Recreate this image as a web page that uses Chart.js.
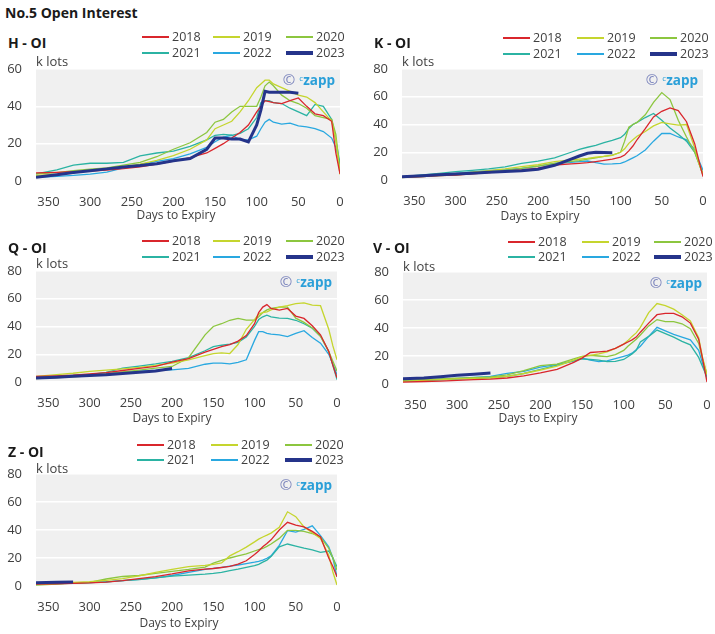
<!DOCTYPE html>
<html>
<head>
<meta charset="utf-8">
<script src="https://cdn.jsdelivr.net/npm/chart.js@4/dist/chart.umd.min.js"></script>
<style>
body { margin: 0; background: #fff; font-family: "Open Sans", sans-serif; color: #404040; }
#page { position: relative; width: 715px; height: 634px; overflow: hidden; }
.t { position: absolute; white-space: nowrap; line-height: 1; }
canvas { position: absolute; }
</style>
</head>
<body>
<div id="page"></div>
<script>
// days to expiry (x values shared by every series)
const days = [365,340,320,300,280,260,240,220,200,180,160,150,140,130,120,110,100,95,90,85,80,70,60,50,40,30,20,10,5,0];
const years = ['2018','2019','2020','2021','2022','2023'];
const yearColors = ['#d9262c','#c5d52e','#8cc63f','#2bb3a3','#29a8e0','#25348a'];
const xTicks = [350,300,250,200,150,100,50,0];

// H - OI (k lots)
const h2018 = [4.3,4.6,5,5.3,5.8,6.6,7.6,9,10.6,12.5,15,17.5,20,23,26,30,37,40,43,42.5,42,41.5,43,44.5,40,36,35,32,15,3.8];
const h2019 = [3,3.6,4.5,5.6,6.5,7.5,9,11,13.6,17,22,28,30,32,37,43,50,52,54,54,52,50,48,46,45,42,37,32,22,3.5];
const h2020 = [3.8,4.5,5.5,6.3,7,8.5,10,13,17,20.5,26,31.5,33,37,40,40,40,45,51,53,51,46,43,41.5,39,35,34,33,25,5];
const h2021 = [3.8,6,8.5,9.5,9.5,10,13.5,15,16,18.5,22,24.5,25,24.5,25.5,28,34,42,43,43,42,41.5,39,37,35,41,40,33,22,9];
const h2022 = [2,2.5,3,3.7,4.8,7,8.8,10.5,12,14.5,18,21,23.5,24.5,22,22,24,28,31.5,33,31.5,30.5,31,29.5,29,28,26.5,23,18,9];
const h2023 = [2,3.3,4.5,5.5,6.5,7.5,8.3,9.3,10.8,12,17,23,23,22.5,22.5,21,30,38,48,47.5,47.5,47.5,47.5,47,null,null,null,null,null,null];

// K - OI
const k2018 = [1.9,2.5,3.2,3.6,4.4,5.3,6.3,7.2,8.5,10.8,11.6,12,12.5,13.3,14.2,15,16.5,18,21,24.5,29,37,45.5,49.5,52,50,42,26,14,2.4];
const k2019 = [1.7,2.8,3.6,4.3,5.6,6.7,8,9.6,11,13.2,14.5,15,15.6,16.4,17,17.8,20,22.5,26.4,29,31.5,35,39,41.5,40.5,39.6,40,23,12,3.6];
const k2020 = [1.9,2.5,3.2,3.6,4.8,5.8,7,8.4,10,12,13.4,14,15,16,17,18,20,28,38,40,41.5,47,56,63,58,43,31,20,12,4.8];
const k2021 = [2.4,3.6,4.8,6,7,8,9.5,12,13.6,16,20,22,23.6,25,27,28.5,30.5,33,37,40,41.5,45,48,43,37.5,33,28,20,12,3.6];
const k2022 = [2.4,3.4,4.2,4.8,5.8,6.7,7.5,8.4,10,12,12.8,13.2,13.7,12.5,11.5,11.6,12,13,14.5,16,17.5,21.6,28,33.5,33.5,31,29,22,14,7];
const k2023 = [2.4,3.1,3.7,4.3,4.9,5.5,6.1,6.7,7.8,10.6,15,17.3,19.3,20,19.8,19.7,null,null,null,null,null,null,null,null,null,null,null,null,null,null];

// Q - OI
const q2018 = [4,4.4,4.9,5.8,6.8,8.3,9.8,11.3,14.3,16.8,21.5,23.5,25.5,27,29.5,33.5,42,50,54,55.8,53,51.8,53,47.5,45.8,40.5,34,22,12,3];
const q2019 = [4,5.3,6.3,7.6,8.5,9.5,10.5,12,13.6,16,19,20.5,21,20.5,27,38,45,49,50,50.6,52,54,55,56.5,57,55.4,55,38,26,16];
const q2020 = [2.4,3.2,3.8,4.4,5.8,7.2,8.6,10,11.2,17.5,34,40,42,44.5,45.8,44.6,44.6,47,50,52,53,54,54,46,43,39,33,22,15,8];
const q2021 = [3.3,4,4.7,5.3,7,10,11.5,13,14.8,17.5,22.5,25.5,26.5,27.3,28.5,32.5,40,45,47,48.2,47,46,45.8,44.5,42,38.7,33,22,12,1.7];
const q2022 = [2.9,3.8,4.5,5.3,6,7,7.8,8.4,8.8,9.8,12.8,13.6,13.6,13,14.2,16,30,36.3,36.3,35,34.5,34,32.7,35,37,32,28,20,13,5.3];
const q2023 = [2.9,3.5,4.1,4.7,5.3,6.2,7,8,9.8,null,null,null,null,null,null,null,null,null,null,null,null,null,null,null,null,null,null,null,null,null];

// V - OI
const v2018 = [1.4,1.8,2.1,2.6,3.1,3.5,4.3,5.8,8,10.5,15.5,18.5,22.5,23,23.5,25.5,28.5,30,31.5,33.5,37,43.5,49.5,50.5,50.5,48,43.5,32,17,1.4];
const v2019 = [1.9,2.6,3.1,3.6,4,4.3,5.5,7.5,10,12.8,17,19.5,20.5,21.5,23,25.5,28.5,31,34,36.5,40.5,51,57.5,56,53.5,49.5,45,33,18,7];
const v2020 = [2.6,3.2,3.6,4.1,4.5,5,6.5,9.5,13.2,14.2,18,19.8,20.5,20,19.5,21,24,27,29.5,32,35,41.5,46,44.6,44.6,43,39.5,29,17,7];
const v2021 = [1.9,2.5,3,3.5,4,4.5,5.5,7.5,10.5,13.5,16.5,18,17.5,17,16,16.2,17.5,19.5,21.5,24,30,34,38.5,36,33.5,30.5,28,19,12,5];
const v2022 = [2,2.8,3.5,4,4.7,5.5,7.6,9,12,14,16.5,18.5,17,16,16.5,18.2,19.8,20.6,22,24.5,27,34,40.5,38,35.5,33.5,31.5,24,14,3.8];
const v2023 = [3.8,4.3,5.2,6.3,7,7.9,null,null,null,null,null,null,null,null,null,null,null,null,null,null,null,null,null,null,null,null,null,null,null,null];

// Z - OI
const z2018 = [1.4,1.6,1.9,2.2,2.8,3.8,5.2,6.7,8.6,10.8,12,12.5,13.2,14,15.6,18,22.5,25,28,30.3,33,40,45.5,43.5,42.2,39,35,20,14,6.6];
const z2019 = [1.4,1.9,2.5,3.1,4,5.2,7.2,9.8,11.8,13.8,14.8,15.5,16.5,21.5,24.5,27.8,31.5,33.5,35,36.3,37.8,42,53,49.5,42.2,38,34,22,10,0.7];
const z2020 = [0.7,1.3,2,2.6,5,6.8,7.5,9,10.5,11.8,13.5,16.3,18.3,20,21.5,23,25,26,26.8,28.3,30,34,39.8,39.8,39,37.5,35,27,20,11.4];
const z2021 = [1.4,1.8,2.1,2.4,3,3.8,4.5,5.8,7,7.8,8.5,9,9.7,11,12,13.3,14.5,15.5,17,18.5,21,28,30,28.5,27,25.8,24,25,20,13.7];
const z2022 = [1.4,1.8,2.1,2.4,3,3.8,4.8,5.8,7.5,9.8,11.8,12.6,13.3,14.2,15,16,17,17.6,18.5,19.8,21.5,29,39.5,38.5,40.5,43,36,28,20,6.6];
const z2023 = [2.4,2.6,2.8,null,null,null,null,null,null,null,null,null,null,null,null,null,null,null,null,null,null,null,null,null,null,null,null,null,null,null];

// page layout (plot = left, top, right, bottom of the grey area)
const panels = [
  {name: 'H - OI', yMax: 60, series: [h2018,h2019,h2020,h2021,h2022,h2023], plot: [36,69,340,181], titleX: 8, titleY: 43, legX: [142,213,286], legY: [37,53], klotsY: 61, axisX: 176, axisY: 215},
  {name: 'K - OI', yMax: 80, series: [k2018,k2019,k2020,k2021,k2022,k2023], plot: [402,69,703,180], titleX: 374, titleY: 43, legX: [503,577,650], legY: [38,54], klotsY: 61, axisX: 540, axisY: 216},
  {name: 'Q - OI', yMax: 80, series: [q2018,q2019,q2020,q2021,q2022,q2023], plot: [36,271,337,382], titleX: 8, titleY: 248, legX: [142,213,286], legY: [241,257], klotsY: 263, axisX: 172, axisY: 418},
  {name: 'V - OI', yMax: 80, series: [v2018,v2019,v2020,v2021,v2022,v2023], plot: [403,272,707,384], titleX: 373, titleY: 248, legX: [508,582,654], legY: [242,257], klotsY: 266, axisX: 538, axisY: 418},
  {name: 'Z - OI', yMax: 80, series: [z2018,z2019,z2020,z2021,z2022,z2023], plot: [36,474,337,586], titleX: 8, titleY: 452, legX: [137,211,285], legY: [445,460], klotsY: 468, axisX: 179, axisY: 623}
];

const FONT = "'Open Sans', sans-serif";
const Y_AXIS_W = 36, X_AXIS_H = 30, PAD_TOP = 8, PAD_RIGHT = 6;
var page = document.getElementById('page');

function addText(txt, x, yc, size, weight, color, center){
  var d = document.createElement('div');
  d.className = 't';
  d.textContent = txt;
  d.style.left = x + 'px';
  d.style.top = yc + 'px';
  d.style.fontSize = size + 'px';
  d.style.fontWeight = weight;
  d.style.color = color;
  d.style.transform = center ? 'translate(-50%,-50%)' : 'translateY(-50%)';
  page.appendChild(d);
  return d;
}

// grey plot background
const plotBg = {
  id: 'plotBg',
  beforeDraw: function(chart){
    var a = chart.chartArea, ctx = chart.ctx;
    ctx.save();
    ctx.fillStyle = '#f0f0f0';
    ctx.fillRect(a.left, a.top, a.right - a.left, a.bottom - a.top);
    ctx.restore();
  }
};

function buildSets(series){
  return series.map(function(vals, i){
    var pts = [];
    for (var j = 0; j < days.length; j++){
      if (vals[j] != null) pts.push({x: days[j], y: vals[j]});
    }
    return {
      label: years[i],
      data: pts,
      borderColor: yearColors[i],
      borderWidth: i == 5 ? 3 : 1.3,
      pointRadius: 0,
      tension: 0,
      order: i == 5 ? 0 : 1
    };
  });
}

function drawPanel(p){
  var l = p.plot[0], t = p.plot[1], r = p.plot[2], b = p.plot[3];
  var cl = l - Y_AXIS_W, ct = t - PAD_TOP;
  var cw = r - cl + PAD_RIGHT, ch = b - ct + X_AXIS_H;

  var canvas = document.createElement('canvas');
  canvas.width = cw; canvas.height = ch;
  canvas.style.left = cl + 'px'; canvas.style.top = ct + 'px';
  canvas.style.width = cw + 'px'; canvas.style.height = ch + 'px';
  page.appendChild(canvas);

  new Chart(canvas.getContext('2d'), {
    type: 'line',
    data: {datasets: buildSets(p.series)},
    options: {
      responsive: false,
      animation: false,
      layout: {padding: {top: PAD_TOP, right: PAD_RIGHT, left: 0, bottom: 0}},
      plugins: {legend: {display: false}, tooltip: {enabled: false}},
      scales: {
        x: {
          type: 'linear', reverse: true, min: 0, max: 365,
          // fixed axis box, no label overhang padding
          afterFit: function(s){ s.height = X_AXIS_H; s.paddingLeft = 0; s.paddingRight = 0; },
          afterBuildTicks: function(s){ s.ticks = xTicks.map(function(v){ return {value: v}; }); },
          grid: {display: false},
          border: {display: false},
          ticks: {autoSkip: false, maxRotation: 0, padding: 5, color: '#404040', font: {family: FONT, size: 13}}
        },
        y: {
          min: 0, max: p.yMax,
          afterFit: function(s){ s.width = Y_AXIS_W; s.paddingTop = 0; s.paddingBottom = 0; },
          grid: {color: '#ffffff', lineWidth: 1.5, drawTicks: false},
          border: {display: false},
          ticks: {stepSize: 20, padding: 14, color: '#404040', font: {family: FONT, size: 13}}
        }
      }
    },
    plugins: [plotBg]
  });

  // panel title, unit, axis title
  addText(p.name, p.titleX, p.titleY, 14, 'bold', '#1a1a1a');
  addText('k lots', l, p.klotsY, 13, 'normal', '#404040');
  addText('Days to Expiry', p.axisX, p.axisY, 12, 'normal', '#404040', true);

  // legend, 3 columns x 2 rows
  for (var i = 0; i < years.length; i++){
    var x = p.legX[i % 3], yc = p.legY[Math.floor(i / 3)];
    var h = i == 5 ? 3.5 : 2;
    var ln = document.createElement('div');
    ln.className = 't';
    ln.style.left = x + 'px';
    ln.style.top = (yc - h / 2) + 'px';
    ln.style.width = '27px';
    ln.style.height = h + 'px';
    ln.style.background = yearColors[i];
    page.appendChild(ln);
    addText(years[i], x + 30, yc, 12.5, 'normal', '#404040');
  }

  // watermark
  var wm = document.createElement('div');
  wm.className = 't';
  wm.style.right = (715 - r + 5) + 'px';
  wm.style.top = (t + 10) + 'px';
  wm.style.transform = 'translateY(-50%)';
  wm.innerHTML = '<span style="color:#7d86bd;font-size:15px">\u00a9</span> ' +
    '<span style="color:#2a9fd8;font-size:8px;vertical-align:4px">c</span>' +
    '<span style="color:#2a9fd8;font-size:13.5px;font-weight:bold">zapp</span>';
  page.appendChild(wm);
}

Chart.defaults.font.family = FONT;
addText('No.5 Open Interest', 5, 13, 14, 'bold', '#1a1a1a');
panels.forEach(drawPanel);
</script>
</body>
</html>
